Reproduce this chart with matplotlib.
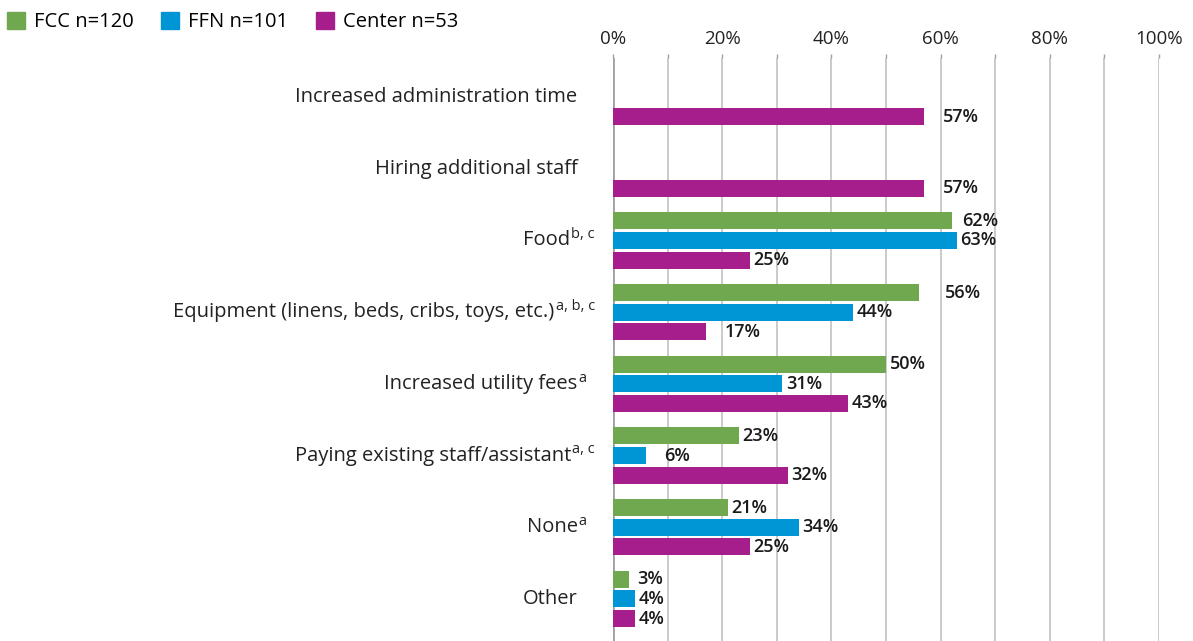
import matplotlib
matplotlib.use("Agg")
import matplotlib.pyplot as plt
import numpy as np
from matplotlib.patches import Patch

plt.rcParams["font.family"] = ["Open Sans", "DejaVu Sans"]

categories = [
    "Increased administration time",
    "Hiring additional staff",
    "Food",
    "Equipment (linens, beds, cribs, toys, etc.)",
    "Increased utility fees",
    "Paying existing staff/assistant",
    "None",
    "Other",
]
footnotes = ["", "", "b, c", "a, b, c", "a", "a, c", "a", ""]
series_names = ["FCC n=120", "FFN n=101", "Center n=53"]
fcc = [None, None, 62, 56, 50, 23, 21, 3]
ffn = [None, None, 63, 44, 31, 6, 34, 4]
center = [57, 57, 25, 17, 43, 32, 25, 4]
x_ticks = [0, 20, 40, 60, 80, 100]

colors = ["#6FA84F", "#0096D6", "#A51E8C"]

# extra horizontal nudge (points) for a few value labels: (series, row) -> pts
label_nudge = {(2, 0): 11, (2, 1): 11, (0, 2): 5, (0, 3): 16, (2, 3): 11,
               (1, 5): 11, (0, 7): 3}

fig = plt.figure(figsize=(11.93, 6.41), dpi=100)
ax = fig.add_axes([613 / 1193, 0.0, 546 / 1193, 1 - 58 / 641])

n = len(categories)
ypos = np.arange(n)
step = 0.273
height = 0.237
all_series = [fcc, ffn, center]

for s, (vals, col) in enumerate(zip(all_series, colors)):
    for i, v in enumerate(vals):
        if v is None:
            continue
        y = ypos[i] + (s - 1) * step
        ax.barh(y, v, height=height, color=col, zorder=3)
        dx = 2.5 + label_nudge.get((s, i), 0)
        ax.annotate(f"{v}%", xy=(v, y), xytext=(dx, 0), textcoords="offset points",
                    ha="left", va="center", fontsize=13, fontweight="semibold",
                    color="#1a1a1a", zorder=4)

ax.set_xlim(0, 100)
ax.set_ylim(n - 1 + 0.586, -0.544)

# gridlines every 10%
for g in range(10, 101, 10):
    ax.axvline(g, color="#C6C6C6", lw=1.3, zorder=1)
ax.axvline(0, color="#A0A0A0", lw=2, zorder=2)

ax.xaxis.tick_top()
ax.set_xticks(x_ticks)
ax.set_xticklabels([f"{t}%" for t in x_ticks], fontsize=13.5, color="#222222")
ax.set_xticks(range(0, 101, 10), minor=True)
ax.tick_params(axis="x", which="both", length=3, color="#A0A0A0", width=1, pad=4)
ax.set_yticks([])
for sp in ax.spines.values():
    sp.set_visible(False)

# category labels, with footnote letters set as superscripts
renderer = fig.canvas.get_renderer()
main_gap = 25.5    # points between label and the 0% line
super_limit = 13   # superscripts must stay this far (points) left of the 0% line
for i, c in enumerate(categories):
    offset = -main_gap
    if footnotes[i]:
        probe = fig.text(0, 0, footnotes[i], fontsize=10.5)
        w_pts = probe.get_window_extent(renderer).width * 72 / fig.dpi
        probe.remove()
        offset = min(-main_gap, -super_limit - w_pts - 1)
    main = ax.annotate(c, xy=(0, ypos[i]), xytext=(offset, 0), textcoords="offset points",
                       ha="right", va="center", fontsize=14.5, color="#222222",
                       annotation_clip=False)
    if footnotes[i]:
        ax.annotate(footnotes[i], xy=(1, 0.78), xycoords=main, xytext=(0.8, 0),
                    textcoords="offset points", ha="left", va="center",
                    fontsize=10.5, color="#222222", annotation_clip=False)

handles = [Patch(color=c) for c in colors]
fig.legend(handles, series_names, loc="upper left", bbox_to_anchor=(-0.006, 1.003),
           ncol=3, frameon=False, fontsize=14.5, handlelength=0.9, handleheight=0.9,
           handletextpad=0.45, columnspacing=1.35, borderaxespad=0.3)

fig.savefig("out.png", dpi=100)
